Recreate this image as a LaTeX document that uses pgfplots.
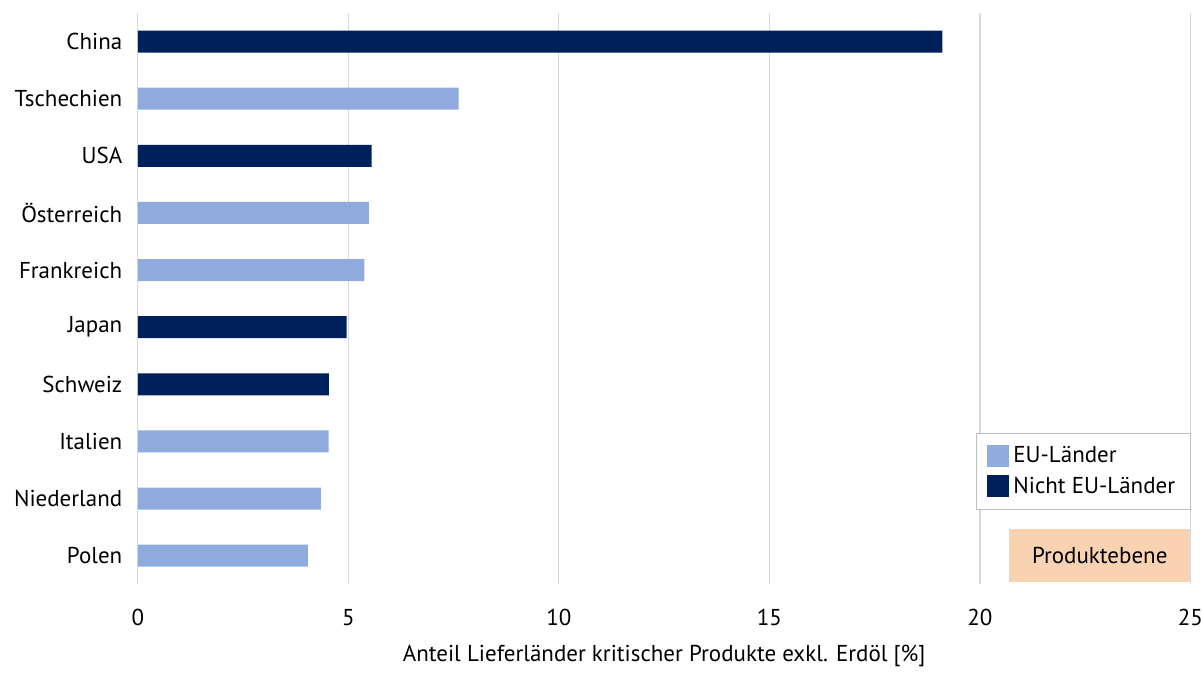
\documentclass[border=0pt]{standalone}
\usepackage{pgfplots}
\pgfplotsset{compat=1.18}
\usepackage{fontspec}
\setmainfont{PT Sans}
\definecolor{euc}{HTML}{8FAADC}
\definecolor{neu}{HTML}{00205B}
\definecolor{peach}{HTML}{F9D3B1}
\definecolor{gridc}{HTML}{D9D9D9}
\begin{document}
\begin{tikzpicture}
\begin{axis}[
  scale only axis, width=527pt, height=286pt,
  xmin=0, xmax=25, ymin=-0.5, ymax=9.5, y dir=reverse,
  xtick={0,5,10,15,20,25}, ytick={0,1,2,3,4,5,6,7,8,9},
  yticklabels={China,Tschechien,USA,Österreich,Frankreich,Japan,Schweiz,Italien,Niederland,Polen},
  axis line style={draw=none},
  tick style={draw=none},
  xmajorgrids, major grid style={gridc, line width=0.6pt},
  xbar, bar width=11pt, bar shift=0pt,
  clip=false,
  tick label style={font=\fontsize{11.5}{13}\selectfont},
  /pgf/number format/assume math mode=true,
  xticklabel style={yshift=-9pt, inner xsep=0pt},
  yticklabel style={xshift=0pt},
  xlabel={Anteil Lieferländer kritischer Produkte exkl. Erdöl [\%]},
  xlabel style={font=\fontsize{11.5}{13}\selectfont, yshift=-2.5pt},
  legend style={at={(1,0.131)}, anchor=south east, draw=gray!50, font=\fontsize{11.5}{13}\selectfont, inner xsep=5.5pt, inner ysep=4.5pt, row sep=1.5pt},
  legend cell align=left,
  legend image code/.code={\fill[#1] (0pt,-5.5pt) rectangle (11pt,5.5pt);},
]
\addplot[fill=euc, draw=none] coordinates {(7.62,1) (5.49,3) (5.38,4) (4.53,7) (4.35,8) (4.04,9)};
\addlegendentry{EU-Länder}
\addplot[fill=neu, draw=none] coordinates {(19.11,0) (5.55,2) (4.96,5) (4.54,6)};
\addlegendentry{Nicht EU-Länder\hspace{6.5pt}}
\node[fill=peach, minimum width=90.5pt, minimum height=26.5pt, anchor=south east, inner sep=0pt, font=\fontsize{11.5}{13}\selectfont] at (axis description cs:1,0.0035) {Produktebene};
\path ([xshift=-69pt,yshift=-41.5pt]axis description cs:0,0) rectangle ([xshift=6pt,yshift=6.5pt]axis description cs:1,1);
\end{axis}
\end{tikzpicture}
\end{document}
